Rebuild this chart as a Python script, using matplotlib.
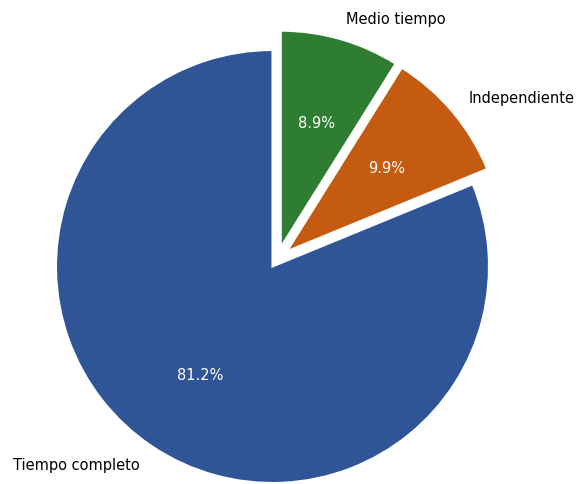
import matplotlib
matplotlib.use("Agg")
import matplotlib.pyplot as plt
import numpy as np

# Distribution of employment type
labels = ["Tiempo completo", "Independiente", "Medio tiempo"]
shares = [81.2, 9.9, 8.9]
colors = ["#2f5597", "#c55a11", "#2e7d32"]
pulled = [1, 2]          # small wedges pulled away from the centre
pull = 0.097             # pull distance, in radii
lean = 0.4               # how far each pull direction leans to the block middle
start = 90

fig = plt.figure(figsize=(5.79, 4.85), dpi=100)
ax = fig.add_axes([0, 0, 1, 1])

wedges, texts, autotexts = ax.pie(
    shares,
    labels=labels,
    colors=colors,
    startangle=start,
    autopct="%1.1f%%",
    wedgeprops={"edgecolor": "white", "linewidth": 1.5},
    textprops={"fontsize": 10.5},
)
for t in autotexts:
    t.set_color("white")

# each pulled wedge moves along its own middle, bent toward the block middle
frac = np.cumsum([0] + shares) / sum(shares)
block_mid = start + 360 * (frac[pulled[0]] + frac[pulled[-1] + 1]) / 2
for i in pulled:
    own_mid = start + 360 * (frac[i] + frac[i + 1]) / 2
    ang = np.deg2rad((1 - lean) * own_mid + lean * block_mid)
    dx, dy = pull * np.cos(ang), pull * np.sin(ang)
    wedges[i].set_center((dx, dy))
    for t in (texts[i], autotexts[i]):
        x, y = t.get_position()
        t.set_position((x + dx, y + dy))

# one data unit = 216.5 px, pie centre at (272.5, 267.5) px from top-left
r_px = 216.5
cx, cy = 272.5, 267.5
ax.set_aspect("auto")
ax.set_xlim(-cx / r_px, (579 - cx) / r_px)
ax.set_ylim(-(485 - cy) / r_px, cy / r_px)
ax.axis("off")

fig.savefig("out.png", dpi=100)
